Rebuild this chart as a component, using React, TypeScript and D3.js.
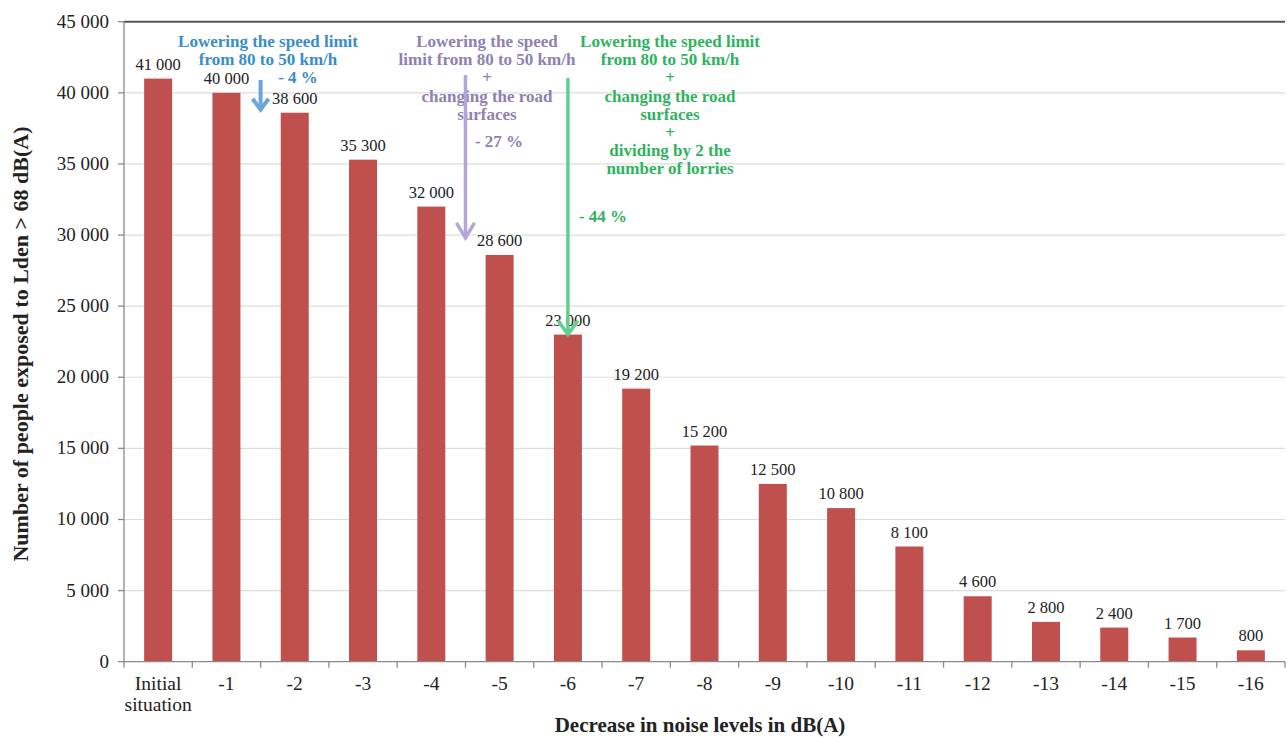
import React from "react";
import * as d3 from "d3";

const categories = ["Initial situation", "-1", "-2", "-3", "-4", "-5", "-6", "-7", "-8", "-9", "-10", "-11", "-12", "-13", "-14", "-15", "-16"];
const people = [41000, 40000, 38600, 35300, 32000, 28600, 23000, 19200, 15200, 12500, 10800, 8100, 4600, 2800, 2400, 1700, 800];
const yTicks = [0, 5000, 10000, 15000, 20000, 25000, 30000, 35000, 40000, 45000];

const blueNote = ["Lowering the speed limit", "from 80 to 50 km/h"];
const blueGain = "- 4 %";
const purpleNote = ["Lowering the speed", "limit from 80 to 50 km/h", "+", "changing the road", "surfaces"];
const purpleGain = "- 27 %";
const greenNote = ["Lowering the speed limit", "from 80 to 50 km/h", "+", "changing the road", "surfaces", "+", "dividing by 2 the", "number of lorries"];
const greenGain = "- 44 %";

const W = 1287;
const H = 738;
const left = 124;
const right = 1285;
const top = 21.7;
const bottom = 661.7;
const serif = "'Liberation Serif', 'Times New Roman', serif";

const fmt = (v: number) => d3.format(",")(v).replace(/,/g, " ");

export default function App() {
  const x = d3.scaleBand<string>().domain(categories).range([left, right]).paddingInner(0.59).paddingOuter(0.295);
  const y = d3.scaleLinear().domain([0, 45000]).range([bottom, top]);
  const step = x.step();
  const cx = (c: string) => (x(c) as number) + x.bandwidth() / 2;

  const blue = { text: "#3a8ccb", arrow: "#6aa7d8" };
  const purple = { text: "#8f7fb3", arrow: "#b3a6d6" };
  const green = { text: "#2fb35e", arrow: "#5fd08e" };

  // arrow anchors relative to the category bands
  const blueX = left + 2 * step;
  const purpleX = left + 5 * step;
  const greenX = cx("-6");

  const arrow = (xa: number, y0: number, y1: number, color: string, w: number, ax: number, ay: number) => (
    <g stroke={color} strokeWidth={w} fill="none" strokeLinecap="butt" strokeLinejoin="miter">
      <line x1={xa} y1={y0} x2={xa} y2={y1 - 2} />
      <polyline points={`${xa - ax},${y1 - ay} ${xa},${y1} ${xa + ax},${y1 - ay}`} />
    </g>
  );

  const noteText = (lines: string[], xc: number, y0: number, color: string) =>
    lines.map((t, i) => (
      <text key={i} x={xc} y={y0 + i * 18.2} textAnchor="middle" fill={color} fontWeight="bold" fontSize={17} fontFamily={serif}>
        {t}
      </text>
    ));

  return (
    <svg width={W} height={H} style={{ position: "absolute", left: 0, top: 0, background: "#fff" }}>
      {/* gridlines */}
      {yTicks.filter((t) => t > 0 && t < 45000).map((t) => (
        <line key={t} x1={left} x2={right} y1={y(t)} y2={y(t)} stroke="#dcdcdc" strokeWidth={1.2} />
      ))}
      <line x1={left} x2={right} y1={y(45000)} y2={y(45000)} stroke="#555" strokeWidth={2} />

      {/* bars */}
      {categories.map((c, i) => (
        <rect key={c} x={x(c)} y={y(people[i])} width={x.bandwidth()} height={bottom - y(people[i])} fill="#c0504d" />
      ))}

      {/* value labels */}
      {categories.map((c, i) => (
        <text key={c} x={cx(c)} y={y(people[i]) - 9} textAnchor="middle" fontSize={16.5} fontFamily={serif} fill="#222">
          {fmt(people[i])}
        </text>
      ))}

      {/* y axis */}
      <line x1={left} x2={left} y1={top} y2={bottom} stroke="#8a8a8a" strokeWidth={1.3} />
      {yTicks.map((t) => (
        <g key={t}>
          <line x1={left - 6} x2={left} y1={y(t)} y2={y(t)} stroke="#8a8a8a" strokeWidth={1.3} />
          <text x={left - 15} y={y(t) + 6} textAnchor="end" fontSize={19} fontFamily={serif} fill="#222">
            {fmt(t)}
          </text>
        </g>
      ))}

      {/* x axis */}
      <line x1={left} x2={right} y1={bottom} y2={bottom} stroke="#8a8a8a" strokeWidth={1.3} />
      {d3.range(categories.length + 1).map((i) => (
        <line key={i} x1={left + i * step} x2={left + i * step} y1={bottom} y2={bottom + 6} stroke="#8a8a8a" strokeWidth={1.3} />
      ))}
      {categories.map((c) => {
        const parts = c === "Initial situation" ? ["Initial", "situation"] : [c];
        return parts.map((p, j) => (
          <text key={c + j} x={cx(c)} y={690 + j * 21} textAnchor="middle" fontSize={19.5} fontFamily={serif} fill="#222">
            {p}
          </text>
        ));
      })}

      {/* axis titles */}
      <text x={700} y={732} textAnchor="middle" fontWeight="bold" fontSize={21} fontFamily={serif} fill="#222">
        Decrease in noise levels in dB(A)
      </text>
      <text transform={`translate(28, 344) rotate(-90)`} textAnchor="middle" fontWeight="bold" fontSize={22} fontFamily={serif} fill="#222">
        Number  of people exposed to Lden &gt; 68 dB(A)
      </text>

      {/* measure annotations */}
      {noteText(blueNote, 268, 47, blue.text)}
      <text x={298} y={83} textAnchor="middle" fill={blue.text} fontWeight="bold" fontSize={17} fontFamily={serif}>{blueGain}</text>
      {arrow(blueX, 80, y(38600) - 3, blue.arrow, 4, 8, 11)}

      {noteText(purpleNote, 487, 47, purple.text)}
      <text x={499} y={147} textAnchor="middle" fill={purple.text} fontWeight="bold" fontSize={17} fontFamily={serif}>{purpleGain}</text>
      {arrow(purpleX, 75, y(29800), purple.arrow, 3.5, 9, 15)}

      {noteText(greenNote, 670, 47, green.text)}
      <text x={603} y={222} textAnchor="middle" fill={green.text} fontWeight="bold" fontSize={17} fontFamily={serif}>{greenGain}</text>
      {arrow(greenX, 78, y(23000), green.arrow, 3.5, 10, 14)}
    </svg>
  );
}
